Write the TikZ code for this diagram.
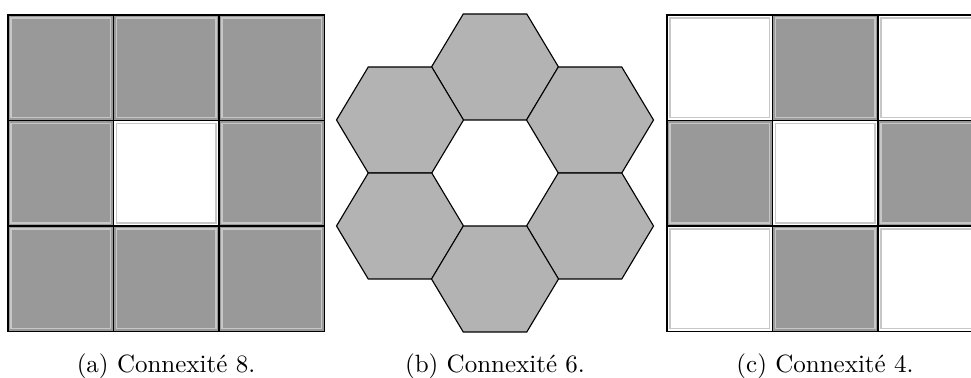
\documentclass[tikz,border=0pt]{standalone}
\definecolor{sqgray}{HTML}{999999}
\definecolor{hexgray}{HTML}{B3B3B3}
\tikzset{
  gridline/.style={draw=black, line width=0.6pt},
  hilite/.style={draw=black!22, line width=0.45pt},
  hexcell/.style={fill=hexgray, draw=black, line width=0.45pt, line join=miter},
  captext/.style={anchor=base, inner sep=0pt, font=\normalsize}
}
\begin{document}
\begin{tikzpicture}[x=0.4pt,y=-0.4pt]
\useasboundingbox (0,0) rectangle (971,378);
\begin{scope}
\clip (0,0) rectangle (971,378);
% ---------- (a) connexite 8 ----------
\foreach \i in {0,1,2}{
  \foreach \j in {0,1,2}{
    \pgfmathsetmacro{\xa}{8+105.5*\i}
    \pgfmathsetmacro{\ya}{15+105.5*\j}
    \ifnum\i=1 \ifnum\j=1 \def\cc{white}\else\def\cc{sqgray}\fi\else\def\cc{sqgray}\fi
    \fill[\cc] (\xa,\ya) rectangle ++(105.5,105.5);
    \draw[hilite] (\xa+3,\ya+3) rectangle ++(99.5,99.5);
  }
}
\draw[gridline] (8,15) rectangle (324.5,331.5);
\draw[gridline] (113.5,15) -- (113.5,331.5) (219,15) -- (219,331.5)
                (8,120.5) -- (324.5,120.5) (8,226) -- (324.5,226);
% ---------- (b) connexite 6 ----------
\foreach \cx/\cy in {495/67, 400/120, 590/120, 400/226, 590/226, 495/279}{
  \draw[hexcell] (\cx-63.5,\cy) -- (\cx-31.75,\cy-53) -- (\cx+31.75,\cy-53)
     -- (\cx+63.5,\cy) -- (\cx+31.75,\cy+53) -- (\cx-31.75,\cy+53) -- cycle;
}
% ---------- (c) connexite 4 ----------
\foreach \i in {0,1,2}{
  \foreach \j in {0,1,2}{
    \pgfmathsetmacro{\xa}{667+105.5*\i}
    \pgfmathsetmacro{\ya}{15+105.5*\j}
    \pgfmathtruncatemacro{\parity}{mod(\i+\j,2)}
    \ifnum\parity=1 \def\cc{sqgray}\else\def\cc{white}\fi
    \fill[\cc] (\xa,\ya) rectangle ++(105.5,105.5);
    \draw[hilite] (\xa+3,\ya+3) rectangle ++(99.5,99.5);
  }
}
\draw[gridline] (667,15) rectangle (983.5,331.5);
\draw[gridline] (772.5,15) -- (772.5,331.5) (878,15) -- (878,331.5)
                (667,120.5) -- (983.5,120.5) (667,226) -- (983.5,226);
\end{scope}
% ---------- captions ----------
\node[captext] (capa) at (166,372) {(a) Connexit\'e 8.};
\node[captext] (capb) at (495,372) {(b) Connexit\'e 6.};
\node[captext] (capc) at (825,372) {(c) Connexit\'e 4.};
\end{tikzpicture}
\end{document}
